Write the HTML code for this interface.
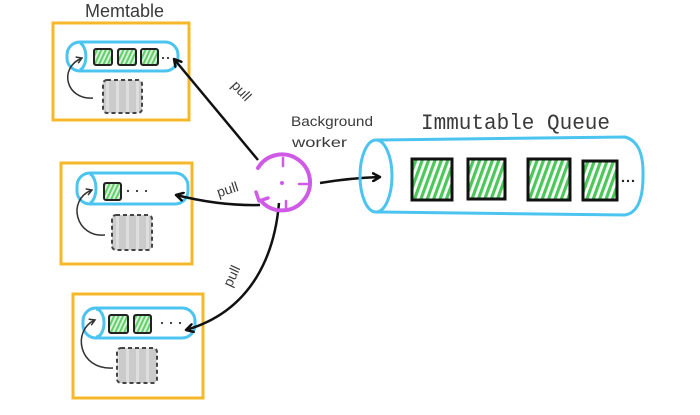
<!DOCTYPE html>
<html><head><meta charset="utf-8"><style>
html,body{margin:0;padding:0;background:#fff;}
svg{display:block;}
text{font-family:"Liberation Sans",sans-serif;fill:#3a3a3a;}
</style></head><body>
<svg width="700" height="415" viewBox="0 0 700 415" xmlns="http://www.w3.org/2000/svg">
<defs>
<pattern id="hatch" width="6" height="6" patternUnits="userSpaceOnUse" patternTransform="rotate(20)">
<rect width="6" height="6" fill="#fff"/>
<rect width="3.2" height="6" fill="#4cc75a"/>
</pattern>
<pattern id="hatchS" width="4" height="4" patternUnits="userSpaceOnUse" patternTransform="rotate(25)">
<rect width="4" height="4" fill="#d8f2d8"/>
<rect width="2" height="4" fill="#62cf6c"/>
</pattern>
<pattern id="grayp" width="10" height="10" patternUnits="userSpaceOnUse">
<rect width="10" height="10" fill="#cbcbcb"/>
<rect x="6" width="3" height="10" fill="#dedede"/>
</pattern>
<marker id="ah" markerWidth="10" markerHeight="10" refX="8" refY="5" orient="auto" markerUnits="userSpaceOnUse">
<path d="M1 1 L8 5 L1 9" fill="none" stroke="#111" stroke-width="2.5" stroke-linecap="round" stroke-linejoin="round"/>
</marker>
<marker id="ahs" markerWidth="8" markerHeight="8" refX="6" refY="4" orient="auto" markerUnits="userSpaceOnUse">
<path d="M1 1 L6 4 L1 7" fill="none" stroke="#333" stroke-width="1.5" stroke-linecap="round"/>
</marker>
</defs>

<!-- Memtable label -->
<text x="85" y="17" font-size="18">Memtable</text>

<!-- Memtable 1 -->
<rect x="53" y="23" width="136" height="97" fill="none" stroke="#f5b82a" stroke-width="3"/>
<rect x="67" y="42" width="111" height="29" rx="13" fill="none" stroke="#4cc4f0" stroke-width="3"/>
<path d="M80 43 A 8 14 0 0 1 80 70" fill="none" stroke="#4cc4f0" stroke-width="3"/>
<rect x="94" y="49" width="18" height="16" rx="2" fill="url(#hatchS)" stroke="#222" stroke-width="2"/>
<rect x="118" y="49" width="18" height="16" rx="2" fill="url(#hatchS)" stroke="#222" stroke-width="2"/>
<rect x="141" y="49" width="17" height="16" rx="2" fill="url(#hatchS)" stroke="#222" stroke-width="2"/>
<circle cx="163" cy="58" r="1.1" fill="#333"/><circle cx="168" cy="58" r="1.1" fill="#333"/>
<rect x="103" y="80" width="39" height="33" rx="4" fill="url(#grayp)" stroke="#444" stroke-width="2" stroke-dasharray="4 3"/>
<path d="M93 98 C 66 100, 58 68, 82 58" fill="none" stroke="#333" stroke-width="1.5" marker-end="url(#ahs)"/>

<!-- Memtable 2 -->
<rect x="61" y="163" width="131" height="101" fill="none" stroke="#f5b82a" stroke-width="3"/>
<rect x="77" y="173" width="111" height="31" rx="13" fill="none" stroke="#4cc4f0" stroke-width="3"/>
<path d="M90 174 A 8 15 0 0 1 90 203" fill="none" stroke="#4cc4f0" stroke-width="3"/>
<rect x="104" y="183" width="17" height="17" rx="2" fill="url(#hatchS)" stroke="#222" stroke-width="2"/>
<circle cx="128" cy="191" r="1.1" fill="#333"/><circle cx="137" cy="191" r="1.1" fill="#333"/><circle cx="146" cy="191" r="1.1" fill="#333"/>
<rect x="112" y="215" width="40" height="35" rx="4" fill="url(#grayp)" stroke="#444" stroke-width="2" stroke-dasharray="4 3"/>
<path d="M105 235 C 76 238, 66 200, 92 190" fill="none" stroke="#333" stroke-width="1.5" marker-end="url(#ahs)"/>

<!-- Memtable 3 -->
<rect x="73" y="294" width="130" height="104" fill="none" stroke="#f5b82a" stroke-width="3"/>
<rect x="83" y="308" width="112" height="30" rx="13" fill="none" stroke="#4cc4f0" stroke-width="3"/>
<path d="M96 309 A 8 14 0 0 1 96 337" fill="none" stroke="#4cc4f0" stroke-width="3"/>
<rect x="109" y="315" width="19" height="18" rx="2" fill="url(#hatchS)" stroke="#222" stroke-width="2"/>
<rect x="134" y="315" width="17" height="18" rx="2" fill="url(#hatchS)" stroke="#222" stroke-width="2"/>
<circle cx="162" cy="323" r="1.1" fill="#333"/><circle cx="171" cy="323" r="1.1" fill="#333"/><circle cx="180" cy="323" r="1.1" fill="#333"/>
<rect x="117" y="348" width="40" height="35" rx="4" fill="url(#grayp)" stroke="#444" stroke-width="2" stroke-dasharray="4 3"/>
<path d="M113 368 C 78 370, 72 330, 95 320" fill="none" stroke="#333" stroke-width="1.5" marker-end="url(#ahs)"/>

<!-- arrows from worker -->
<path d="M258 160 L174 59" fill="none" stroke="#111" stroke-width="2.5" marker-end="url(#ah)"/>
<path d="M260 205 Q 220 206 176 195" fill="none" stroke="#111" stroke-width="2.5" marker-end="url(#ah)"/>
<path d="M279 203 C 275 250, 255 310, 186 330" fill="none" stroke="#111" stroke-width="2.5" marker-end="url(#ah)"/>
<path d="M320 183 Q 350 178 380 177" fill="none" stroke="#111" stroke-width="2.5" marker-end="url(#ah)"/>

<!-- pull labels -->
<text x="0" y="0" font-size="14" text-anchor="middle" transform="translate(238,94) rotate(47)">pull</text>
<text x="0" y="0" font-size="14" text-anchor="middle" transform="translate(229,194) rotate(-18)">pull</text>
<text x="0" y="0" font-size="14" text-anchor="middle" transform="translate(236,278) rotate(-65)">pull</text>

<!-- worker circle -->
<path d="M258 168 A 28 28 0 1 1 262 202" fill="none" stroke="#cf5ae6" stroke-width="4" stroke-linecap="round"/>
<path d="M256 192 L259 201 L268 198" fill="none" stroke="#cf5ae6" stroke-width="3.5" stroke-linecap="round" stroke-linejoin="round"/>
<line x1="283" y1="158" x2="283" y2="166" stroke="#cf5ae6" stroke-width="2.5" stroke-linecap="round"/>
<line x1="299" y1="184" x2="307" y2="184" stroke="#cf5ae6" stroke-width="2.5" stroke-linecap="round"/>
<line x1="286" y1="201" x2="286" y2="209" stroke="#cf5ae6" stroke-width="2.5" stroke-linecap="round"/>
<circle cx="282" cy="183" r="2" fill="#cf5ae6"/>

<!-- Background worker -->
<text x="291" y="126" font-size="13.5" textLength="82" lengthAdjust="spacingAndGlyphs">Background</text>
<text x="292" y="147" font-size="13.5" textLength="55" lengthAdjust="spacingAndGlyphs">worker</text>

<!-- Immutable Queue -->
<text x="421" y="129" font-size="22" textLength="189" lengthAdjust="spacingAndGlyphs" style="font-family:'Liberation Mono',monospace">Immutable Queue</text>
<path d="M376 140 L625 137 Q 644 142 643 176 Q 643 212 625 215 L376 212" fill="none" stroke="#4cc4f0" stroke-width="3"/>
<ellipse cx="376" cy="176" rx="16" ry="36" fill="none" stroke="#4cc4f0" stroke-width="3"/>
<rect x="412" y="159" width="40" height="41" fill="url(#hatch)" stroke="#111" stroke-width="3"/>
<rect x="468" y="159" width="37" height="40" fill="url(#hatch)" stroke="#111" stroke-width="3"/>
<rect x="528" y="159" width="42" height="41" fill="url(#hatch)" stroke="#111" stroke-width="3"/>
<rect x="583" y="161" width="34" height="39" fill="url(#hatch)" stroke="#111" stroke-width="3"/>
<circle cx="623" cy="181" r="1.2" fill="#222"/><circle cx="628" cy="181" r="1.2" fill="#222"/><circle cx="633" cy="181" r="1.2" fill="#222"/>
</svg>
</body></html>
